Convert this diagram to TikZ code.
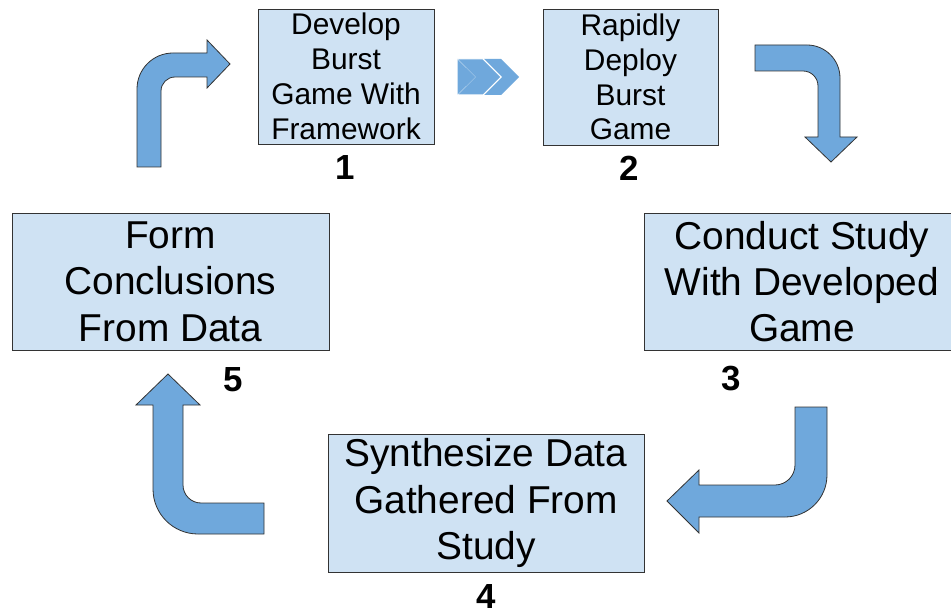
\documentclass[tikz,border=0pt]{standalone}
\usepackage{fontspec}
\setmainfont{Liberation Sans}
\definecolor{boxfill}{HTML}{CFE2F3}
\definecolor{arrowfill}{HTML}{6FA8DC}
\definecolor{edge}{HTML}{333333}
\begin{document}
\begin{tikzpicture}[x=1bp,y=-1bp,
  stepbox/.style={draw=edge,line width=0.8bp,fill=boxfill,inner sep=0pt,align=center},
  smalltext/.style={font=\fontsize{30}{35}\selectfont},
  bigtext/.style={font=\fontsize{39}{46.5}\selectfont},
  numlabel/.style={font=\fontsize{35}{35}\selectfont\bfseries,inner sep=0pt},
  bentarrow/.style={fill=arrowfill,draw=edge,line width=0.8bp,line join=miter}]
\useasboundingbox (0,0) rectangle (951,613);
\fill[white] (0,0) rectangle (951,613);
\begin{scope}
\clip (0,0) rectangle (951,613);
% boxes
\node[stepbox,smalltext,minimum width=176bp,minimum height=135bp] (b1) at (346,76.5) {Develop\\Burst\\Game With\\Framework};
\node[stepbox,smalltext,minimum width=175bp,minimum height=136bp] (b2) at (630.5,77) {Rapidly\\Deploy\\Burst\\Game};
\node[stepbox,bigtext,minimum width=316bp,minimum height=137bp] (b3) at (802,281.5) {Conduct Study\\With Developed\\Game};
\node[stepbox,bigtext,minimum width=316bp,minimum height=138bp] (b4) at (486,503) {Synthesize Data\\Gathered From\\Study};
\node[stepbox,bigtext,minimum width=317bp,minimum height=137bp] (b5) at (170.5,281.5) {Form\\Conclusions\\From Data};
\end{scope}
% numbers
\node[numlabel] (n1) at (345,168) {1};
\node[numlabel] (n2) at (629,168) {2};
\node[numlabel] (n3) at (731,379) {3};
\node[numlabel] (n4) at (486,597) {4};
\node[numlabel] (n5) at (233,380) {5};
% chevrons
\fill[arrowfill] (484,59) -- (501,59) -- (519,77) -- (501,95) -- (484,95) -- (502,77) -- cycle;
\filldraw[arrowfill,draw=white,line width=1bp] (457,59) -- (483,59) -- (501,77) -- (483,95) -- (457,95) -- (475,77) -- cycle;
\fill[arrowfill] (457.5,59.5) -- (482,59.5) -- (457.5,59.5) -- (475.5,77) -- (457.5,94.5) -- cycle;
% arrow A: up then right
\draw[bentarrow] (137,167) -- (137,89) .. controls (137,69.1) and (153.1,53) .. (173,53) -- (207,53) -- (207,40) -- (230,64) -- (207,88) -- (207,77) -- (175,77) .. controls (167.3,77) and (161,83.3) .. (161,91) -- (161,167) -- cycle;
% arrow B: right then down
\draw[bentarrow] (755,45) -- (807,45) .. controls (825.2,45) and (840,59.8) .. (840,78) -- (840,137) -- (857,137) -- (831,162) -- (805,137) -- (818,137) -- (818,86) .. controls (818,77.7) and (811.3,71) .. (803,71) -- (755,71) -- cycle;
% arrow C: down then left
\draw[bentarrow] (795,407) -- (827,407) -- (827,475) .. controls (827,498.2) and (808.2,517) .. (785,517) -- (699,517) -- (699,533) -- (667,501) -- (699,470) -- (699,485) -- (775,485) .. controls (786,485) and (795,476) .. (795,465) -- cycle;
% arrow D: left then up
\draw[bentarrow] (264,503) -- (264,534) -- (198,534) .. controls (173.1,534) and (153,513.9) .. (153,489) -- (153,405) -- (136,405) -- (168,374) -- (200,405) -- (183,405) -- (183,485) .. controls (183,494.9) and (191.1,503) .. (201,503) -- cycle;
\end{tikzpicture}
\end{document}
